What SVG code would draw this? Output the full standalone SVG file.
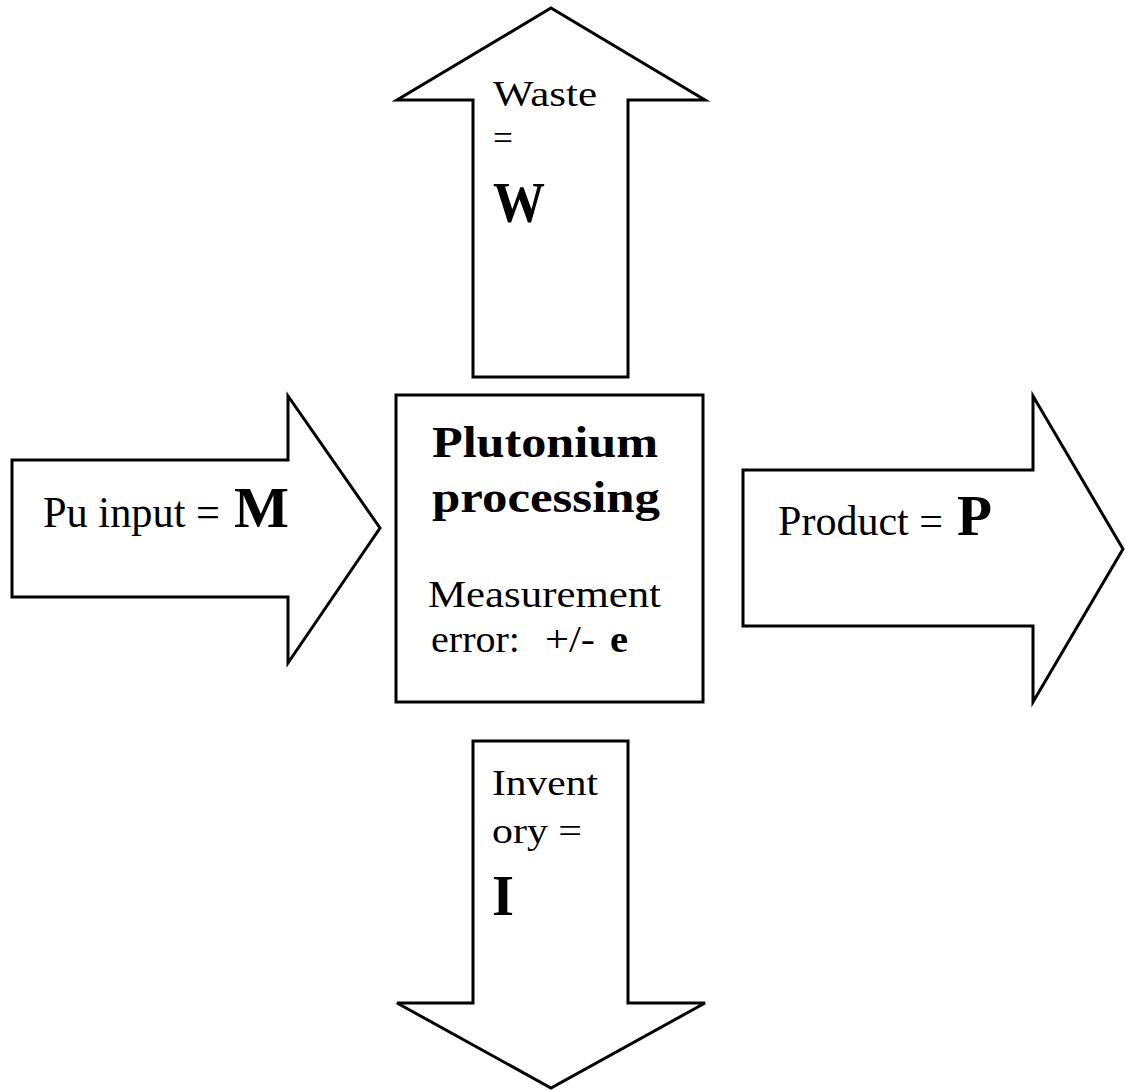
<svg xmlns="http://www.w3.org/2000/svg" width="1125" height="1091" viewBox="0 0 1125 1091">
  <style>
    .shape { fill: #ffffff; stroke: #000000; stroke-width: 3; stroke-linejoin: miter; }
    .txt { font-family: "Liberation Serif", "Times New Roman", serif; fill: #000000; }
    .b { font-weight: bold; }
  </style>
  <rect x="0" y="0" width="1125" height="1091" fill="#ffffff"/>

  <!-- central process box -->
  <g id="node-processing">
    <rect class="shape" x="396" y="395" width="307" height="307"/>
    <text class="txt b" x="432" y="457" font-size="44" textLength="226" lengthAdjust="spacingAndGlyphs">Plutonium</text>
    <text class="txt b" x="432" y="512" font-size="44" textLength="228" lengthAdjust="spacingAndGlyphs">processing</text>
    <text class="txt" x="428" y="607" font-size="38" textLength="233" lengthAdjust="spacingAndGlyphs">Measurement</text>
    <text class="txt" x="431" y="652" font-size="37" textLength="89" lengthAdjust="spacingAndGlyphs">error:</text>
    <text class="txt" x="545" y="652" font-size="37" textLength="50" lengthAdjust="spacingAndGlyphs">+/-</text>
    <text class="txt b" x="610" y="652" font-size="37" textLength="18" lengthAdjust="spacingAndGlyphs">e</text>
  </g>

  <!-- block arrows carrying the material flows -->
  <g id="connectors">
    <g id="flow-input">
      <polygon class="shape" points="12,460 288,460 288,396 380,528 288,663 288,597 12,597"/>
      <text class="txt" x="43" y="527" font-size="45" textLength="177" lengthAdjust="spacingAndGlyphs">Pu input =</text>
      <text class="txt b" x="234" y="527" font-size="56" textLength="55" lengthAdjust="spacingAndGlyphs">M</text>
    </g>
    <g id="flow-product">
      <polygon class="shape" points="743,470 1033,470 1033,396 1123,549 1033,702 1033,626 743,626"/>
      <text class="txt" x="778" y="535" font-size="42" textLength="165" lengthAdjust="spacingAndGlyphs">Product =</text>
      <text class="txt b" x="957" y="535" font-size="56" textLength="35" lengthAdjust="spacingAndGlyphs">P</text>
    </g>
    <g id="flow-waste">
      <polygon class="shape" points="473,377 473,100 397,100 551,8 705,100 628,100 628,377"/>
      <text class="txt" x="493" y="106" font-size="35" textLength="104" lengthAdjust="spacingAndGlyphs">Waste</text>
      <text class="txt" x="493" y="150" font-size="35" textLength="20" lengthAdjust="spacingAndGlyphs">=</text>
      <text class="txt b" x="493" y="222" font-size="57" textLength="52" lengthAdjust="spacingAndGlyphs">W</text>
    </g>
    <g id="flow-inventory">
      <polygon class="shape" points="473,741 628,741 628,1003 705,1003 551,1088 397,1003 473,1003"/>
      <text class="txt" x="492" y="795" font-size="35" textLength="106" lengthAdjust="spacingAndGlyphs">Invent</text>
      <text class="txt" x="492" y="843" font-size="35" textLength="90" lengthAdjust="spacingAndGlyphs">ory =</text>
      <text class="txt b" x="492" y="915" font-size="58" textLength="22" lengthAdjust="spacingAndGlyphs">I</text>
    </g>
  </g>
</svg>
